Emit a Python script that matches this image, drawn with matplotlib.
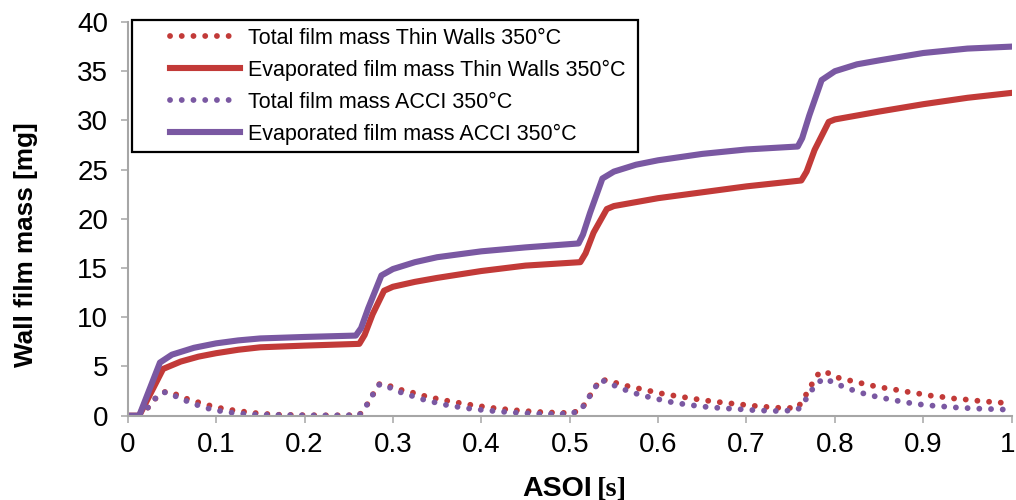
import matplotlib
matplotlib.use("Agg")
import matplotlib.pyplot as plt
from matplotlib.patches import Rectangle
from matplotlib.transforms import ScaledTranslation

plt.rcParams["font.family"] = ["Liberation Sans", "DejaVu Sans"]

RED = "#C23A38"
PURPLE = "#7A58A2"
AXIS_GRAY = "#A6A6A6"

# Total film mass (dotted), shared time base [s]
t_total = [0, 0.013, 0.02, 0.027, 0.035, 0.043, 0.057, 0.07, 0.084, 0.097, 0.11, 0.123,
           0.137, 0.152, 0.17, 0.2, 0.23, 0.262, 0.27, 0.277, 0.285, 0.294, 0.308, 0.322,
           0.336, 0.35, 0.364, 0.39, 0.418, 0.445, 0.472, 0.5, 0.512, 0.52, 0.527, 0.535,
           0.548, 0.561, 0.575, 0.588, 0.601, 0.615, 0.628, 0.642, 0.656, 0.67, 0.684, 0.698,
           0.712, 0.726, 0.74, 0.758, 0.766, 0.773, 0.78, 0.788, 0.8, 0.813, 0.826, 0.84,
           0.854, 0.868, 0.881, 0.895, 0.909, 0.922, 0.936, 0.95, 0.964, 0.978, 1.0]

total_thin_walls = [0, 0, 0.5, 1.3, 2.1, 2.45, 2.1, 1.6, 1.26, 0.92, 0.68, 0.51,
                    0.34, 0.2, 0.1, 0.05, 0.03, 0.05, 1.0, 2.1, 3.25, 3.1, 2.65, 2.35,
                    2.0, 1.72, 1.47, 1.07, 0.73, 0.5, 0.34, 0.27, 0.5, 1.6, 2.65, 3.7,
                    3.45, 3.1, 2.82, 2.57, 2.3, 2.08, 1.9, 1.7, 1.52, 1.37, 1.23, 1.1,
                    0.97, 0.87, 0.78, 0.8, 1.93, 3.05, 4.14, 4.55, 3.94, 3.66, 3.38, 3.09,
                    2.85, 2.65, 2.44, 2.24, 2.03, 1.9, 1.73, 1.63, 1.49, 1.39, 1.25]

total_acci = [0, 0, 0.5, 1.3, 2.15, 2.4, 1.87, 1.36, 0.92, 0.58, 0.41, 0.24,
              0.15, 0.1, 0.07, 0.03, 0.02, 0.05, 1.02, 2.1, 3.2, 2.95, 2.4, 2.0,
              1.6, 1.3, 1.02, 0.68, 0.44, 0.27, 0.17, 0.2, 0.5, 1.6, 2.65, 3.66,
              3.16, 2.68, 2.25, 1.93, 1.66, 1.38, 1.19, 1.02, 0.88, 0.78, 0.7, 0.63,
              0.54, 0.5, 0.47, 0.6, 1.5, 2.5, 3.3, 3.8, 3.3, 2.83, 2.42, 2.07,
              1.8, 1.56, 1.34, 1.16, 1.03, 0.94, 0.84, 0.77, 0.71, 0.67, 0.6]

# Evaporated film mass (solid)
t_evap_thin_walls = [0, 0.013, 0.04, 0.06, 0.08, 0.1, 0.125, 0.15, 0.2, 0.262, 0.268, 0.277,
                     0.29, 0.3, 0.325, 0.35, 0.4, 0.45, 0.512, 0.518, 0.527, 0.542, 0.55,
                     0.575, 0.6, 0.65, 0.7, 0.762, 0.768, 0.777, 0.793, 0.8, 0.825, 0.85,
                     0.9, 0.95, 1.0]
evap_thin_walls = [0, 0, 4.75, 5.5, 6.0, 6.35, 6.7, 6.95, 7.12, 7.3, 8.2, 10.3,
                   12.7, 13.1, 13.6, 14.0, 14.7, 15.25, 15.6, 16.5, 18.6, 21.0, 21.3,
                   21.7, 22.1, 22.7, 23.3, 23.9, 24.8, 27.0, 29.85, 30.1, 30.5, 30.9,
                   31.65, 32.3, 32.8]

t_evap_acci = [0, 0.013, 0.0365, 0.05, 0.075, 0.1, 0.125, 0.15, 0.2, 0.258, 0.264, 0.272,
               0.287, 0.3, 0.325, 0.35, 0.4, 0.45, 0.51, 0.515, 0.523, 0.537, 0.55,
               0.575, 0.6, 0.65, 0.7, 0.758, 0.763, 0.771, 0.785, 0.8, 0.825, 0.85,
               0.9, 0.95, 1.0]
evap_acci = [0, 0, 5.4, 6.2, 6.9, 7.35, 7.65, 7.85, 8.0, 8.14, 8.9, 10.9,
             14.25, 14.9, 15.6, 16.1, 16.7, 17.1, 17.5, 18.4, 20.6, 24.1, 24.8,
             25.5, 25.95, 26.6, 27.05, 27.35, 28.2, 30.5, 34.1, 35.0, 35.7, 36.1,
             36.85, 37.3, 37.5]

x_ticks = [0, 0.1, 0.2, 0.3, 0.4, 0.5, 0.6, 0.7, 0.8, 0.9, 1]
x_ticklabels = ["0", "0.1", "0.2", "0.3", "0.4", "0.5", "0.6", "0.7", "0.8", "0.9", "1"]
y_ticks = [0, 5, 10, 15, 20, 25, 30, 35, 40]

W, H = 1016, 500
fig = plt.figure(figsize=(W / 100, H / 100), dpi=100)
ax = fig.add_axes([127.7 / W, 1 - 415.7 / H, 884 / W, (415.7 - 22) / H])

dot_style = dict(linestyle=(0, (0.01, 2.0)), dash_capstyle="round", lw=4.2)
ax.plot(t_total, total_thin_walls, color=RED, label="Total film mass Thin Walls 350°C", **dot_style)
ax.plot(t_evap_thin_walls, evap_thin_walls, color=RED, lw=4.4,
        solid_joinstyle="round", label="Evaporated film mass Thin Walls 350°C")
ax.plot(t_total, total_acci, color=PURPLE, label="Total film mass ACCI 350°C", **dot_style)
ax.plot(t_evap_acci, evap_acci, color=PURPLE, lw=4.4,
        solid_joinstyle="round", label="Evaporated film mass ACCI 350°C")

ax.set_xlim(0, 1)
ax.set_ylim(0, 40)
ax.set_xticks(x_ticks)
ax.set_xticklabels(x_ticklabels)
ax.set_yticks(y_ticks)
ax.tick_params(axis="both", labelsize=20, length=5, width=1.1, color=AXIS_GRAY, direction="out")
ax.tick_params(axis="y", pad=9)
ax.tick_params(axis="x", pad=7)

# keep the last x tick label inside the figure edge
last = ax.get_xticklabels()[-1]
last.set_transform(last.get_transform() + ScaledTranslation(-0.04, 0, fig.dpi_scale_trans))

for side in ("top", "right"):
    ax.spines[side].set_visible(False)
for side in ("left", "bottom"):
    ax.spines[side].set_color(AXIS_GRAY)
    ax.spines[side].set_linewidth(1.5)

ax.set_ylabel("Wall film mass [mg]", fontsize=18.8, fontweight="bold")
ax.yaxis.set_label_coords(-0.101, 0.435)

# x label: bold sans "ASOI" followed by a serif "[s]"
fig.text(592 / W, 1 - 496 / H, "ASOI", fontsize=20.5, fontweight="bold", ha="right", va="baseline")
fig.text(597 / W, 1 - 496 / H, "[s]", fontsize=20.5, fontweight="bold", ha="left", va="baseline",
         family=["Liberation Serif", "DejaVu Serif"])

# legend frame drawn separately so the inner padding can be wider than tall
frame = Rectangle((132 / W, 1 - 152 / H), (638 - 132) / W, (152 - 20) / H,
                  transform=fig.transFigure, facecolor="white", edgecolor="black",
                  linewidth=1.6, zorder=4, clip_on=False)
ax.add_patch(frame)

leg = ax.legend(loc="upper left", bbox_to_anchor=(170 / W, 1 - 28 / H),
                bbox_transform=fig.transFigure, frameon=False, fontsize=15.5,
                handlelength=3.25, handletextpad=0.36, labelspacing=0.5,
                borderpad=0, borderaxespad=0)
leg.set_zorder(5)

fig.savefig("out.png", dpi=100)
